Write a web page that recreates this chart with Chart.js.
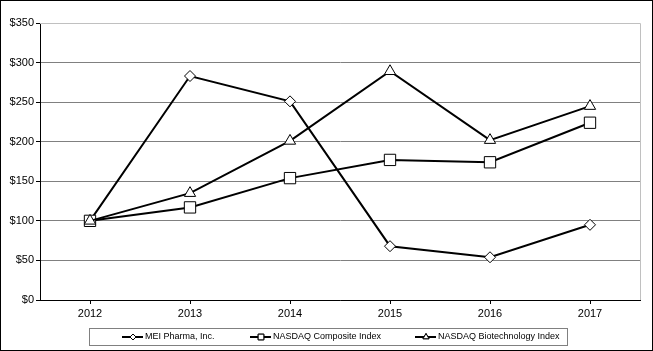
<!DOCTYPE html>
<html>
<head>
    <title>Cumulative Total Return</title>
    <script src="https://cdn.jsdelivr.net/npm/chart.js"></script>
    <style>
        body { margin: 0; padding: 0; background: #fff; }
        .chart-container { width: 653px; height: 351px; position: relative; }
    </style>
</head>
<body>
    <div class="chart-container">
        <canvas id="returnChart" width="653" height="351"></canvas>
    </div>

    <script>
        const years = ['2012', '2013', '2014', '2015', '2016', '2017'];
        const meiPharma = [100, 283, 251, 68, 54, 95];
        const nasdaqComposite = [100, 117, 154, 177, 174, 224];
        const nasdaqBiotech = [100, 135, 201, 289, 202, 245];
        const seriesNames = ['MEI Pharma, Inc.', 'NASDAQ Composite Index', 'NASDAQ Biotechnology Index'];

        const FONT = 'Liberation Sans, Arial, sans-serif';

        // frame, plot border and the legend box below the axis
        const decorations = {
            id: 'decorations',
            beforeDatasetsDraw(chart) {
                const { ctx, chartArea: a } = chart;
                ctx.save();
                ctx.strokeStyle = '#c0c0c0';
                ctx.lineWidth = 1;
                ctx.beginPath();
                ctx.moveTo(a.left, Math.round(a.top) + 0.5);
                ctx.lineTo(Math.round(a.right) + 0.5, Math.round(a.top) + 0.5);
                ctx.lineTo(Math.round(a.right) + 0.5, a.bottom);
                ctx.stroke();
                ctx.restore();
            },
            afterDraw(chart) {
                const { ctx } = chart;
                ctx.save();
                ctx.strokeStyle = '#000';
                ctx.lineWidth = 1;
                ctx.strokeRect(0.5, 0.5, chart.width - 1, chart.height - 1);

                ctx.strokeStyle = '#808080';
                ctx.strokeRect(89.5, 328.5, 478, 17);

                const items = [
                    { x: 122, style: 'rectRot', r: 3 },
                    { x: 250, style: 'rect', r: 4 },
                    { x: 415, style: 'triangle', r: 3.5 }
                ];
                const y = 337;
                ctx.font = '9px ' + FONT;
                ctx.textBaseline = 'middle';
                items.forEach((it, i) => {
                    ctx.strokeStyle = '#000';
                    ctx.lineWidth = 2;
                    ctx.beginPath();
                    ctx.moveTo(it.x, y);
                    ctx.lineTo(it.x + 21, y);
                    ctx.stroke();
                    ctx.fillStyle = '#fff';
                    ctx.lineWidth = 1;
                    Chart.helpers.drawPoint(ctx, { pointStyle: it.style, radius: it.r, borderWidth: 1 }, it.x + 11, y);
                    ctx.fill();
                    ctx.stroke();
                    ctx.fillStyle = '#000';
                    ctx.fillText(seriesNames[i], it.x + 23, y);
                });
                ctx.restore();
            }
        };

        function makeSet(label, data, style, radius) {
            return {
                label: label,
                data: data,
                borderColor: '#000',
                borderWidth: 2,
                pointStyle: style,
                pointRadius: radius,
                pointHoverRadius: radius,
                pointBackgroundColor: '#fff',
                pointBorderColor: '#000',
                pointBorderWidth: 1,
                tension: 0,
                fill: false
            };
        }

        const ctx = document.getElementById('returnChart').getContext('2d');
        new Chart(ctx, {
            type: 'line',
            data: {
                labels: years,
                datasets: [
                    makeSet(seriesNames[2], nasdaqBiotech, 'triangle', 6.5),
                    makeSet(seriesNames[1], nasdaqComposite, 'rect', 8),
                    makeSet(seriesNames[0], meiPharma, 'rectRot', 5.5)
                ]
            },
            options: {
                responsive: false,
                animation: false,
                layout: { padding: { left: 0, right: 13, top: 23, bottom: 0 } },
                plugins: {
                    legend: { display: false },
                    tooltip: { enabled: false },
                    title: { display: false }
                },
                scales: {
                    x: {
                        offset: true,
                        grid: { drawOnChartArea: false, tickLength: 4, color: '#000', offset: false },
                        border: { color: '#000', width: 1 },
                        ticks: { color: '#000', font: { family: FONT, size: 11 }, padding: 3, maxRotation: 0 },
                        afterFit(axis) { axis.height = 51; }
                    },
                    y: {
                        min: 0,
                        max: 350,
                        grid: { color: (c) => c.tick && c.tick.value === 350 ? '#c0c0c0' : '#808080', tickLength: 4, tickColor: '#000' },
                        border: { color: '#000', width: 1 },
                        ticks: {
                            stepSize: 50,
                            color: '#000',
                            padding: 2,
                            font: { family: FONT, size: 11 },
                            callback: (v) => '$' + v
                        },
                        afterFit(axis) { axis.width = 40; }
                    }
                }
            },
            plugins: [decorations]
        });
    </script>
</body>
</html>
